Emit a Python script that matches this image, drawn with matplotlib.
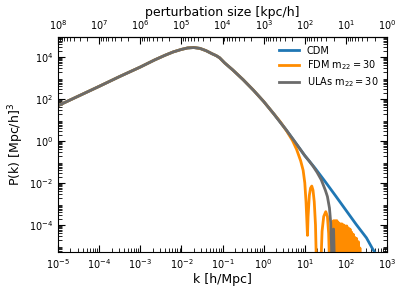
import numpy as np
import matplotlib
matplotlib.use('Agg')
import matplotlib.pyplot as plt
from matplotlib.ticker import LogLocator, NullFormatter

# ---- data (log10 k [h/Mpc], log10 P [Mpc/h]^3) ----
cdm_logk = [-5.0, -4.5, -4.0, -3.5, -3.0, -2.65, -2.4, -2.2, -2.0, -1.85, -1.7, -1.55,
            -1.4, -1.25, -1.15, -1.07, -0.95, -0.85, -0.75, -0.5, -0.25, 0.0, 0.25,
            0.55, 0.75, 1.0, 1.25, 1.5, 1.75, 2.0, 2.25, 2.5, 2.65, 2.75, 3.0]
cdm_logP = [1.68, 2.14, 2.6, 3.07, 3.52, 3.86, 4.08, 4.24, 4.36, 4.43, 4.45, 4.41,
            4.3, 4.15, 4.06, 3.96, 3.72, 3.55, 3.38, 2.92, 2.42, 1.88, 1.28,
            0.52, -0.02, -0.7, -1.3, -1.95, -2.62, -3.3, -3.98, -4.62, -5.15, -5.45, -6.2]

fdm_logk = [-5.0, -4.5, -4.0, -3.5, -3.0, -2.65, -2.4, -2.2, -2.0, -1.85, -1.7, -1.55,
            -1.4, -1.25, -1.15, -1.07, -0.95, -0.85, -0.75, -0.5, -0.25, 0.0, 0.25,
            0.4, 0.55, 0.7, 0.8, 0.9, 0.96, 1.0, 1.03, 1.05, 1.065, 1.08, 1.11, 1.14,
            1.17, 1.2, 1.23, 1.26, 1.29, 1.38, 1.42, 1.46, 1.51, 1.55, 1.58, 1.61,
            1.64, 1.66, 1.68, 1.70, 1.72, 1.74, 1.76, 1.78, 1.80, 1.82, 1.84, 1.86,
            1.88, 1.90, 1.92, 1.94, 1.96, 1.98, 2.00, 2.02, 2.04, 2.06, 2.08, 2.10,
            2.12, 2.14, 2.16, 2.18, 2.20, 2.22, 2.24, 2.26, 2.28, 2.30, 2.32, 2.34, 2.36]
fdm_logP = [1.68, 2.14, 2.6, 3.07, 3.52, 3.86, 4.08, 4.24, 4.36, 4.43, 4.45, 4.41,
            4.3, 4.15, 4.06, 3.96, 3.72, 3.55, 3.38, 2.92, 2.42, 1.88, 1.28,
            0.92, 0.5, 0.02, -0.4, -0.95, -1.4, -2.0, -2.9, -3.8, -4.5, -3.6, -2.6, -2.25,
            -2.15, -2.35, -2.9, -4.0, -6.5, -6.5, -4.3, -3.6, -3.37, -3.6, -4.4, -6.5,
            -6.5, -4.0, -6.5, -3.8, -6.5, -3.8, -6.5, -3.8, -6.5, -3.9, -6.5, -3.95,
            -6.5, -3.95, -6.5, -4.0, -6.5, -4.05, -6.5, -4.05, -6.5, -4.15, -6.5, -4.2,
            -6.5, -4.35, -6.5, -4.45, -6.5, -4.6, -6.5, -4.65, -6.5, -4.8, -6.5, -5.1, -6.5]

ula_logk = [-5.0, -4.5, -4.0, -3.5, -3.0, -2.65, -2.4, -2.2, -2.0, -1.85, -1.7, -1.55,
            -1.4, -1.25, -1.15, -1.07, -0.95, -0.85, -0.75, -0.5, -0.25, 0.0, 0.25,
            0.55, 0.75, 1.0, 1.1, 1.2, 1.3, 1.4, 1.5, 1.55, 1.6, 1.63, 1.65, 1.665,
            1.70, 1.735]
ula_logP = [1.68, 2.14, 2.6, 3.07, 3.52, 3.86, 4.08, 4.24, 4.36, 4.43, 4.45, 4.41,
            4.3, 4.15, 4.06, 3.96, 3.72, 3.55, 3.38, 2.92, 2.42, 1.88, 1.28,
            0.52, -0.02, -0.7, -0.94, -1.2, -1.5, -1.85, -2.35, -2.65, -3.2, -3.9, -5.0, -7.0,
            -4.2, -7.0]

labels = ['CDM', r'FDM m$_{22}=30$', r'ULAs m$_{22}=30$']
colors = ['#1f77b4', '#ff8c00', '#6b6b6b']

y_major = [1e-4, 1e-2, 1e0, 1e2, 1e4]

fig = plt.figure(figsize=(4.07, 2.91), dpi=100)
ax = fig.add_axes([0.1425, 0.134, 0.8085, 0.739])

series = [(cdm_logk, cdm_logP), (fdm_logk, fdm_logP), (ula_logk, ula_logP)]
for (lk, lp), lab, col in zip(series, labels, colors):
    ax.loglog(10.0 ** np.array(lk), 10.0 ** np.array(lp), color=col, lw=2, label=lab)

ax.set_xlim(1e-5, 1e3)
ax.set_ylim(5.1e-6, 9e4)
ax.set_yticks(y_major)
ax.yaxis.set_minor_locator(LogLocator(base=10, subs=np.arange(2, 10), numticks=100))
ax.yaxis.set_minor_formatter(NullFormatter())
ax.xaxis.set_major_locator(LogLocator(base=10, numticks=20))
ax.xaxis.set_minor_locator(LogLocator(base=10, subs=np.arange(2, 10), numticks=100))
ax.xaxis.set_minor_formatter(NullFormatter())
ax.tick_params(which='both', direction='in', labelsize=7, right=True)
ax.tick_params(which='major', length=5)
ax.tick_params(which='minor', length=3)

ax.set_xlabel('k [h/Mpc]', fontsize=9, labelpad=2)
ax.set_ylabel(r'P(k) [Mpc/h]$^3$', fontsize=9, labelpad=2)


def k2size(k):
    with np.errstate(divide='ignore'):
        return 1e3 / np.asarray(k, dtype=float)


secax = ax.secondary_xaxis('top', functions=(k2size, k2size))
secax.xaxis.set_major_locator(LogLocator(base=10, numticks=20))
secax.xaxis.set_minor_locator(LogLocator(base=10, subs=np.arange(2, 10), numticks=100))
secax.xaxis.set_minor_formatter(NullFormatter())
secax.tick_params(which='both', direction='in', labelsize=7)
secax.tick_params(which='major', length=5)
secax.tick_params(which='minor', length=3)
secax.set_xlabel('perturbation size [kpc/h]', fontsize=9, labelpad=2)

ax.legend(loc='upper right', frameon=False, fontsize=7, labelspacing=0.3)

fig.savefig('out.png', dpi=100)
